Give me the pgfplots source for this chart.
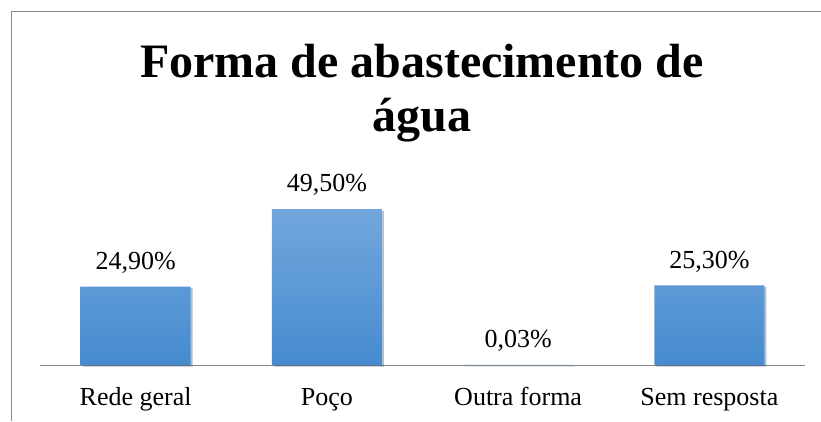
\documentclass[border=0pt]{standalone}
\usepackage{pgfplots}
\pgfplotsset{compat=1.18}
\usepackage{fontspec}
\setmainfont{Liberation Serif}
\usetikzlibrary{shadows}
\definecolor{bartop}{RGB}{114,167,221}
\definecolor{barbot}{RGB}{70,139,207}
\definecolor{framegray}{RGB}{137,137,137}
\begin{document}
\begin{tikzpicture}[x=1pt,y=1pt]
\useasboundingbox (0,0) rectangle (821,421);
\draw[framegray, line width=1pt] (11,0) -- (11,409) -- (821,409);
\node[font=\fontsize{48}{54}\selectfont\bfseries, anchor=base] at (422,343) {Forma de abastecimento de};
\node[font=\fontsize{48}{54}\selectfont\bfseries, anchor=base] at (422,289) {água};
\begin{axis}[
  at={(40pt,56pt)}, anchor=south west,
  scale only axis, width=765pt, height=189.1pt,
  xmin=-0.5, xmax=3.5, ymin=0, ymax=60,
  axis x line*=bottom, hide y axis,
  x axis line style={draw=framegray, line width=1pt, -},
  xtick={0,1,2,3}, major tick length=0pt,
  xticklabels={Rede geral, Poço, Outra forma, Sem resposta},
  xticklabel style={font=\fontsize{26}{30}\selectfont, anchor=base, yshift=-40pt},
  /pgf/number format/assume math mode=true,
  clip=false,
  nodes near coords={\pgfmathprintnumber[fixed,fixed zerofill,precision=2,use comma]{\pgfplotspointmeta}\%},
  nodes near coords style={font=\fontsize{26}{30}\selectfont, anchor=base, yshift=17pt, text=black},
]
\addplot[ybar, bar width=110pt, draw=none, top color=bartop, bottom color=barbot,
  drop shadow={shadow xshift=2pt, shadow yshift=-1.5pt, opacity=0.2, fill=black}]
  coordinates {(0,24.9) (1,49.5) (2,0.03) (3,25.3)};
\end{axis}
\end{tikzpicture}
\end{document}
